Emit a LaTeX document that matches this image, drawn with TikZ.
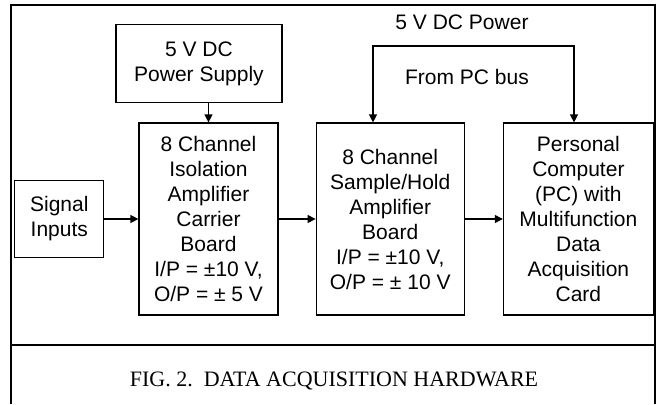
\documentclass[tikz,border=0pt]{standalone}
\usepackage{fontspec}
\setmainfont{Liberation Sans}
\newfontfamily\capfont{Liberation Serif}
\usetikzlibrary{positioning,arrows.meta}

\begin{document}
\begin{tikzpicture}[x=1pt, y=-1pt, line width=1.2pt,
  every node/.style={align=center, inner sep=0pt, font=\fontsize{21pt}{25pt}\selectfont},
  blk/.style={draw, rectangle, minimum height=192pt},
  arr/.style={-{Triangle[length=8pt,width=8pt]}},
  dbl/.style={{Triangle[length=8pt,width=8pt]}-{Triangle[length=8pt,width=8pt]}}]
\useasboundingbox (0,0) rectangle (658,404);
% outer frame and caption strip
\draw[line width=1.6pt] (11,404) -- (11,5) -- (655,5) -- (655,404);
\draw[line width=1.6pt] (11,345) -- (655,345);
\node (iso) [blk, minimum width=139pt] at (208.5,219) {8 Channel\\Isolation\\Amplifier\\Carrier\\Board\\I/P = ±10 V,\\O/P = ± 5 V};
\node (sh) [blk, minimum width=148pt, right=37pt of iso] {8 Channel\\Sample/Hold\\Amplifier\\Board\\I/P = ±10 V,\\O/P = ± 10 V};
\node (pc) [blk, minimum width=150pt, right=38pt of sh] {Personal\\Computer\\(PC) with\\Multifunction\\Data\\Acquisition\\Card};
\node (sig) [draw, minimum width=89pt, minimum height=77pt, left=34pt of iso] {Signal\\Inputs};
\node (ps) [draw, minimum width=166pt, minimum height=78pt, above=19pt of iso, xshift=-9.5pt] {5 V DC\\Power Supply};
\node (pwr) at (462,22) {5 V DC Power};
\node (pcbus) at (467,77) {From PC bus};
\node (cap) [font=\capfont\fontsize{22pt}{25pt}\selectfont] at (334,381) {FIG. 2.\ \ DATA ACQUISITION HARDWARE};
\coordinate (busl) at (373,46);
\coordinate (busr) at (574,46);
\draw[arr] (ps.south -| iso.north) -- (iso.north);
\draw[arr] (sig) -- (iso);
\draw[arr] (iso) -- (sh);
\draw[arr] (sh) -- (pc);
\draw[dbl] (sh.north -| busl) -- (busl) -- (busr) -- (pc.north -| busr);
\end{tikzpicture}
\end{document}
